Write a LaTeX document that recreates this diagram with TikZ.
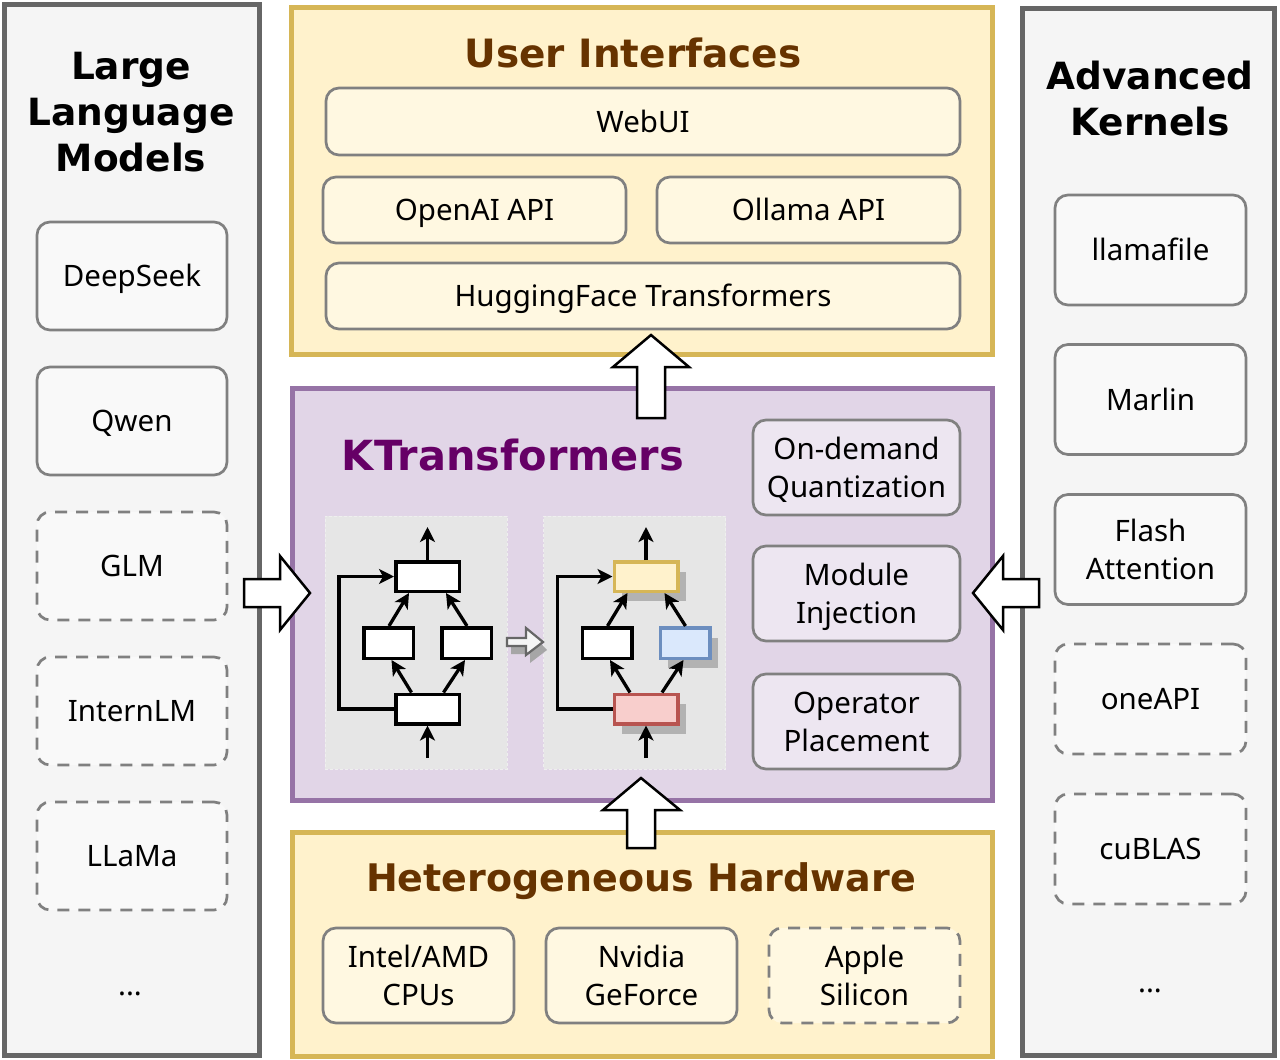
\documentclass[tikz,border=0pt]{standalone}
\usepackage{fontspec}
\setmainfont{Noto Sans}
\newfontfamily\titlefont{DejaVu Sans}
\usetikzlibrary{shadows,calc,arrows.meta}
\definecolor{sidefill}{HTML}{F5F5F5}
\definecolor{sidedraw}{HTML}{666666}
\definecolor{sideitemfill}{HTML}{F9F9F9}
\definecolor{yelfill}{HTML}{FFF2CC}
\definecolor{yeldraw}{HTML}{D6B656}
\definecolor{yelitemfill}{HTML}{FFF8E1}
\definecolor{purpfill}{HTML}{E1D5E7}
\definecolor{purpdraw}{HTML}{9673A6}
\definecolor{purpitemfill}{HTML}{EDE6F1}
\definecolor{itemdraw}{HTML}{808080}
\definecolor{browntitle}{HTML}{663300}
\definecolor{purptitle}{HTML}{660066}
\definecolor{grayfill}{HTML}{E6E6E6}
\definecolor{grayedge}{HTML}{EFEFEF}
\definecolor{redfill}{HTML}{F8CECC}
\definecolor{reddraw}{HTML}{B85450}
\definecolor{bluefill}{HTML}{DAE8FC}
\definecolor{bluedraw}{HTML}{6C8EBF}
\newcommand\cs{\rule[-0.24em]{0pt}{1.2em}}
\begin{document}
\begin{tikzpicture}[x=1pt,y=-1pt,
  bodyf/.style={font=\fontsize{29.5}{38}\selectfont},
  titlef/.style={font=\titlefont\bfseries\fontsize{#1}{46}\selectfont, align=center, inner sep=0pt},
  titlef/.default=37.5,
  panel/.style={line width=5pt, inner sep=0pt},
  sidepanel/.style={panel, draw=sidedraw, fill=sidefill},
  yelpanel/.style={panel, draw=yeldraw, fill=yelfill},
  purppanel/.style={panel, draw=purpdraw, fill=purpfill},
  item/.style={draw=itemdraw, line width=2.7pt, rounded corners=13pt, align=center, inner sep=0pt, bodyf},
  dashitem/.style={dash pattern=on 12pt off 9pt},
  sideitem/.style={item, fill=sideitemfill, minimum width=190pt, minimum height=108pt},
  kitem/.style={item, fill=sideitemfill, minimum width=191pt, minimum height=110pt},
  uiitem/.style={item, fill=yelitemfill, minimum height=66pt},
  hwitem/.style={item, fill=yelitemfill, minimum width=191pt, minimum height=95pt},
  ktitem/.style={item, fill=purpitemfill, minimum width=207pt, minimum height=95pt},
  graypanel/.style={fill=grayfill, draw=grayedge, line width=1pt, dash pattern=on 3pt off 2pt, minimum width=182pt, minimum height=253pt, inner sep=0pt},
  modbox/.style={draw=black, fill=white, line width=3.5pt, inner sep=0pt},
  wide/.style={minimum width=63.5pt, minimum height=29.5pt},
  narrow/.style={minimum width=49.5pt, minimum height=30.5pt},
  modshadow/.style={drop shadow={shadow xshift=8pt, shadow yshift=-10pt, fill=black!30, opacity=1}},
  modarr/.style={line width=3.3pt, -{Stealth[length=15pt, width=15pt, inset=4pt]}},
  blockarr/.style={draw=black, fill=white, line width=2.5pt, line join=miter},
  dots/.style={bodyf, inner sep=0pt}
]
\useasboundingbox (0,0) rectangle (1280,1060);

% ---------- panels ----------
\node[sidepanel, minimum width=255.5pt, minimum height=1051pt] (llm) at (131.75,529.5) {};
\node[sidepanel, minimum width=251.5pt, minimum height=1047pt] (ker) at (1148.25,531.5) {};
\node[yelpanel, minimum width=701pt, minimum height=346.5pt] (ui) at (641.5,180.75) {};
\node[purppanel, minimum width=700pt, minimum height=412pt] (kt) at (642,594) {};
\node[yelpanel, minimum width=700pt, minimum height=224pt] (hw) at (642,944) {};

% ---------- titles ----------
\node[titlef] (llmt) at (131,112) {\cs Large\\\cs Language\\\cs Models};
\node[titlef] (kert) at (1150,99) {\cs Advanced\\\cs Kernels};
\node[titlef=39, text=browntitle] (uit) at (633,53) {\cs User Interfaces};
\node[titlef=41.5, text=purptitle] (ktt) at (513,456) {\cs KTransformers};
\node[titlef=38, text=browntitle] (hwt) at (641,878) {\cs Heterogeneous Hardware};

% ---------- LLM items ----------
\node[sideitem] (ds) at (132,276) {\cs DeepSeek};
\node[sideitem] (qw) at (132,421) {\cs Qwen};
\node[sideitem, dashitem] (glm) at (132,566) {\cs GLM};
\node[sideitem, dashitem] (ilm) at (132,711) {\cs InternLM};
\node[sideitem, dashitem] (lla) at (132,856) {\cs LLaMa};
\node[dots] (ldots) at (130,985) {\cs ...};

% ---------- kernel items ----------
\node[kitem] (lf) at (1150.5,250) {\cs llamafile};
\node[kitem] (ma) at (1150.5,399.5) {\cs Marlin};
\node[kitem] (fa) at (1150.5,549.5) {\cs Flash\\\cs Attention};
\node[kitem, dashitem] (oa) at (1150.5,699) {\cs oneAPI};
\node[kitem, dashitem] (cb) at (1150.5,849) {\cs cuBLAS};
\node[dots] (rdots) at (1150,982) {\cs ...};

% ---------- UI items ----------
\node[uiitem, minimum width=634pt, minimum height=67pt] (web) at (643,121.5) {\cs WebUI};
\node[uiitem, minimum width=303pt] (oai) at (474.5,210) {\cs OpenAI API};
\node[uiitem, minimum width=303pt] (oll) at (808.5,210) {\cs Ollama API};
\node[uiitem, minimum width=634pt] (hf) at (643,296) {\cs HuggingFace Transformers};

% ---------- KTransformers items ----------
\node[ktitem] (odq) at (856.5,467.5) {\cs On-demand\\\cs Quantization};
\node[ktitem] (mi) at (856.5,593.5) {\cs Module\\\cs Injection};
\node[ktitem] (op) at (856.5,721.5) {\cs Operator\\\cs Placement};

% ---------- hardware items ----------
\node[hwitem] (cpu) at (418.5,975.5) {\cs Intel/AMD\\\cs CPUs};
\node[hwitem] (gpu) at (641.5,975.5) {\cs Nvidia\\\cs GeForce};
\node[hwitem, dashitem] (apl) at (864.5,975.5) {\cs Apple\\\cs Silicon};

% ---------- module diagrams ----------
\node[graypanel] (gl) at (416,642.5) {};
\node[graypanel] (gr) at (634.5,642.5) {};

% left (original)
\node[modbox, wide] (lt) at (427.5,576.5) {};
\node[modbox, narrow] (lml) at (388.5,643) {};
\node[modbox, narrow] (lmr) at (466.5,643) {};
\node[modbox, wide] (lb) at (427.5,709) {};
\coordinate (lin) at (427.5,758);
\coordinate (lout) at (427.5,527);
\draw[modarr] (lin) -- (lb.south);
\draw[modarr] (lt.north) -- (lout);
\draw[modarr] ($(lb.north)+(-16,0)$) -- ($(lml.south)+(3,0)$);
\draw[modarr] ($(lb.north)+(16,0)$) -- ($(lmr.south)+(-1.5,0)$);
\draw[modarr] ($(lml.north)+(0.5,0)$) -- ($(lt.south)+(-18.5,0)$);
\draw[modarr] ($(lmr.north)+(0.5,0)$) -- ($(lt.south)+(18.5,0)$);
\draw[modarr, line join=miter] (lb.west) -- ++(-55,0) |- (lt.west);

% small transition arrow
\fill[black!35] (511,646) -- (530,646) -- (530,632) -- (547,650) -- (530,663) -- (530,654) -- (511,654) -- cycle;
\draw[draw=sidedraw, fill=sidefill, line width=2.2pt, line join=miter] (507,638) -- (526,638) -- (526,628) -- (543,642) -- (526,655) -- (526,646) -- (507,646) -- cycle;

% right (injected)
\node[modbox, wide, fill=yelfill, draw=yeldraw, modshadow] (rt) at (646,576.5) {};
\node[modbox, narrow] (rml) at (607,643) {};
\node[modbox, narrow, fill=bluefill, draw=bluedraw, modshadow] (rmr) at (685,643) {};
\node[modbox, wide, fill=redfill, draw=reddraw, modshadow] (rb) at (646,709) {};
\coordinate (rin) at (646,758);
\coordinate (rout) at (646,527);
\draw[modarr] (rin) -- (rb.south);
\draw[modarr] (rt.north) -- (rout);
\draw[modarr] ($(rb.north)+(-16,0)$) -- ($(rml.south)+(3,0)$);
\draw[modarr] ($(rb.north)+(16,0)$) -- ($(rmr.south)+(-1.5,0)$);
\draw[modarr] ($(rml.north)+(0.5,0)$) -- ($(rt.south)+(-18.5,0)$);
\draw[modarr] ($(rmr.north)+(0.5,0)$) -- ($(rt.south)+(18.5,0)$);
\draw[modarr, line join=miter] (rb.west) -- ++(-55,0) |- (rt.west);

% ---------- block arrows ----------
\draw[blockarr] (244,579) -- (280,579) -- (280,556) -- (310,593) -- (280,630) -- (280,607) -- (244,607) -- cycle;
\draw[blockarr] (1039,579) -- (1003,579) -- (1003,556) -- (973,593) -- (1003,630) -- (1003,607) -- (1039,607) -- cycle;
\draw[blockarr] (637,418) -- (637,367) -- (613,367) -- (651,335) -- (689,367) -- (665,367) -- (665,418) -- cycle;
\draw[blockarr] (627,848) -- (627,810) -- (603,810) -- (641,778) -- (680,810) -- (655,810) -- (655,848) -- cycle;
\end{tikzpicture}
\end{document}
